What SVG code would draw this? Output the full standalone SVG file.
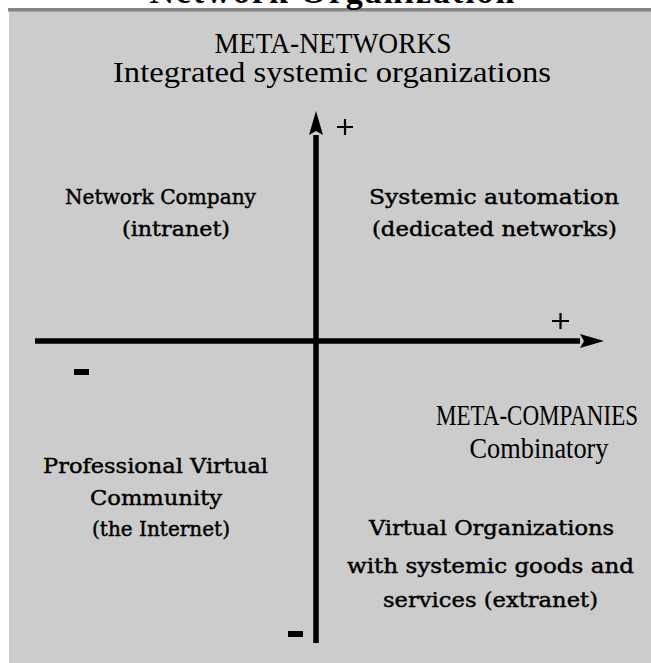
<svg xmlns="http://www.w3.org/2000/svg" width="651" height="663" viewBox="0 0 651 663">
  <style>
    .caps { font-family: "Liberation Serif", "Times New Roman", serif; font-size: 29px; fill: #000; text-anchor: middle; }
    .quad { font-family: "DejaVu Serif", Georgia, serif; font-size: 21px; fill: #000; stroke: #000; stroke-width: 0.45; text-anchor: middle; }
    .title { font-family: "Liberation Serif", "Times New Roman", serif; font-size: 34px; font-weight: bold; fill: #000; text-anchor: middle; }
    .sign { stroke: #000; stroke-width: 2.2; fill: none; }
    .axis { stroke: #000; stroke-width: 5.5; fill: none; }
  </style>
  <defs>
    <marker id="arrow" viewBox="0 0 24 14" refX="0" refY="7" markerWidth="24" markerHeight="14" markerUnits="userSpaceOnUse" orient="auto">
      <path d="M0,0 L24,7 L0,14 L4,7 Z" fill="#000"/>
    </marker>
  </defs>

  <!-- panel background and top rule -->
  <rect x="9" y="11" width="642" height="652" fill="#cccccc"/>
  <rect x="8" y="8" width="643" height="3.5" fill="#858585"/>

  <!-- heading, clipped by the top edge -->
  <text class="title" x="332" y="3" textLength="365">Network Organization</text>

  <!-- axes -->
  <g id="connectors">
    <line class="axis" x1="316" y1="643" x2="316" y2="135" marker-end="url(#arrow)"/>
    <line class="axis" x1="35" y1="341" x2="580" y2="341" marker-end="url(#arrow)"/>
  </g>

  <!-- axis signs -->
  <g id="signs">
    <path class="sign" d="M337,127 H353 M345,119 V135"/>
    <path class="sign" d="M552,321 H569 M560.5,313 V329"/>
    <rect x="74" y="369" width="15" height="6" fill="#000"/>
    <rect x="288" y="631" width="15" height="6" fill="#000"/>
  </g>

  <g id="meta-networks">
    <text class="caps" x="333" y="53" textLength="237" lengthAdjust="spacingAndGlyphs">META-NETWORKS</text>
    <text class="caps" x="332" y="82" font-size="31" textLength="438" lengthAdjust="spacingAndGlyphs">Integrated systemic organizations</text>
  </g>

  <g id="network-company">
    <text class="quad" x="160.5" y="204" textLength="191" lengthAdjust="spacingAndGlyphs">Network Company</text>
    <text class="quad" x="176" y="236" textLength="108" lengthAdjust="spacingAndGlyphs">(intranet)</text>
  </g>

  <g id="systemic-automation">
    <text class="quad" x="494" y="204" textLength="250" lengthAdjust="spacingAndGlyphs">Systemic automation</text>
    <text class="quad" x="494.5" y="236" textLength="245" lengthAdjust="spacingAndGlyphs">(dedicated networks)</text>
  </g>

  <g id="meta-companies">
    <text class="caps" x="537" y="425" font-size="23" textLength="202" lengthAdjust="spacingAndGlyphs">META-COMPANIES</text>
    <text class="caps" x="539" y="458" font-size="25" textLength="139" lengthAdjust="spacingAndGlyphs">Combinatory</text>
  </g>

  <g id="professional-virtual-community">
    <text class="quad" x="155.5" y="473" textLength="225" lengthAdjust="spacingAndGlyphs">Professional Virtual</text>
    <text class="quad" x="156" y="505" textLength="132" lengthAdjust="spacingAndGlyphs">Community</text>
    <text class="quad" x="161" y="536" textLength="138" lengthAdjust="spacingAndGlyphs">(the Internet)</text>
  </g>

  <g id="virtual-organizations">
    <text class="quad" x="491.5" y="535" textLength="245" lengthAdjust="spacingAndGlyphs">Virtual Organizations</text>
    <text class="quad" x="490.5" y="573" textLength="287" lengthAdjust="spacingAndGlyphs">with systemic goods and</text>
    <text class="quad" x="490.5" y="607" textLength="215" lengthAdjust="spacingAndGlyphs">services (extranet)</text>
  </g>
</svg>
